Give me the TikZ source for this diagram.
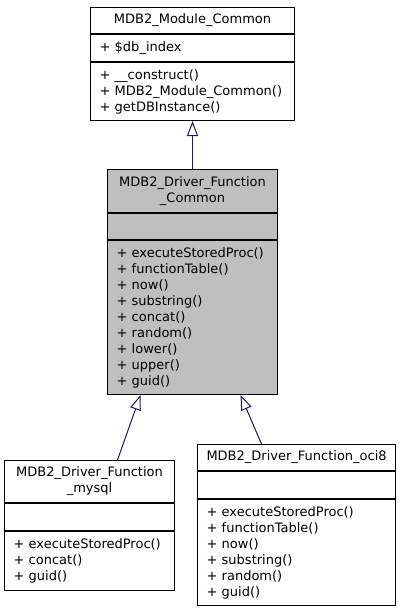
\documentclass[tikz,border=0pt]{standalone}
\usepackage{fontspec}
\setmainfont{DejaVu Sans}
\usetikzlibrary{arrows.meta}
\definecolor{edgeBlue}{HTML}{191970}
\definecolor{classGrey}{HTML}{BFBFBF}

\begin{document}
\begin{tikzpicture}
[x=1pt,y=-1pt,
  classPart/.style={draw,line width=1pt,anchor=north west,inner xsep=9pt,inner ysep=0pt,
    font=\fontsize{13}{16}\selectfont},
  classTitle/.style={classPart,align=center},
  classBody/.style={classPart,align=left},
  inheritDecorate/.style={edgeBlue,line width=1pt,-{Triangle[open,length=15pt,width=11pt]}}]
\useasboundingbox (0,0) rectangle (400,611);
%% MDB2_Module_Common
\node (moduleT) at (90,7) [classTitle,text width=186pt,minimum height=26pt] {MDB2\_Module\_Common};
\node (moduleA) at (moduleT.south west) [classBody,text width=186pt,minimum height=27pt]
  {+ \$db\_index};
\node (moduleM) at (moduleA.south west) [classBody,text width=186pt,minimum height=58pt]
  {+ \_\_construct()\\+ MDB2\_Module\_Common()\\+ getDBInstance()};
%% MDB2_Driver_Function_Common
\node (commonT) at (107,169) [classTitle,fill=classGrey,text width=152pt,minimum height=43pt]
  {MDB2\_Driver\_Function\\\_Common};
\node (commonA) at (commonT.south west) [classBody,fill=classGrey,text width=152pt,minimum height=26pt] {};
\node (commonM) at (commonA.south west) [classBody,fill=classGrey,text width=152pt,minimum height=154pt]
  {+ executeStoredProc()\\+ functionTable()\\+ now()\\+ substring()\\+ concat()\\+ random()\\+ lower()\\+ upper()\\+ guid()};
%% MDB2_Driver_Function_mysql
\node (mysqlT) at (4,460) [classTitle,text width=152pt,minimum height=42pt]
  {MDB2\_Driver\_Function\\\_mysql};
\node (mysqlA) at (mysqlT.south west) [classBody,text width=152pt,minimum height=27pt] {};
\node (mysqlM) at (mysqlA.south west) [classBody,text width=152pt,minimum height=59pt]
  {+ executeStoredProc()\\+ concat()\\+ guid()};
%% MDB2_Driver_Function_oci8
\node (oci8T) at (197,444) [classTitle,text width=180pt,minimum height=26pt] {MDB2\_Driver\_Function\_oci8};
\node (oci8A) at (oci8T.south west) [classBody,text width=180pt,minimum height=27pt] {};
\node (oci8M) at (oci8A.south west) [classBody,text width=180pt,minimum height=106pt]
  {+ executeStoredProc()\\+ functionTable()\\+ now()\\+ substring()\\+ random()\\+ guid()};
%% dividers
\foreach \partname in {moduleA, moduleM, commonA, commonM, mysqlA, mysqlM, oci8A, oci8M}
  \draw[line width=2pt] (\partname.north west) -- (\partname.north east);
%% inheritance
\coordinate (mysqlUp) at ([xshift=28pt]mysqlT.north);
\coordinate (oci8Up) at ([xshift=-35pt]oci8T.north);
\coordinate (commonL) at ([xshift=-52pt]commonM.south);
\coordinate (commonR) at ([xshift=48pt]commonM.south);
\path
\foreach \startnode/\endnode in {commonT/moduleM, mysqlUp/commonL, oci8Up/commonR}
{
  (\startnode) edge[inheritDecorate] (\endnode)
};
\end{tikzpicture}
\end{document}
